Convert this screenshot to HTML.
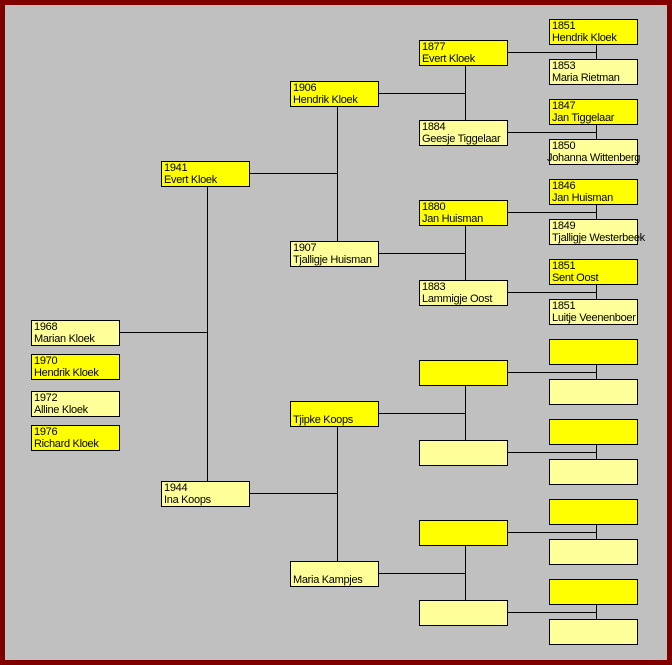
<!DOCTYPE html>
<html><head><meta charset="utf-8"><style>
*{margin:0;padding:0}
body{width:672px;height:665px;overflow:hidden;background:#800000;position:relative;font-family:"Liberation Sans",Arial,sans-serif}
#bg{position:absolute;left:5px;top:5px;width:662px;height:655px;background:#c0c0c0}
.b{position:absolute;box-sizing:border-box;width:89px;height:26px;border:1px solid #000;font-size:11px;line-height:12px;letter-spacing:-0.3px;padding:0 0 0 2px;white-space:nowrap;color:#000}
.y{background:#ffff00}.l{background:#ffff99}
.h{position:absolute;height:1px;background:#000}
.v{position:absolute;width:1px;background:#000}
</style></head><body><div id="bg"></div>
<div class="v" style="left:207px;top:187px;height:294px"></div>
<div class="h" style="left:119px;top:332px;width:88px"></div>
<div class="h" style="left:249px;top:173px;width:88px"></div>
<div class="h" style="left:249px;top:493px;width:88px"></div>
<div class="v" style="left:337px;top:107px;height:134px"></div>
<div class="v" style="left:337px;top:427px;height:134px"></div>
<div class="h" style="left:379px;top:93px;width:86px"></div>
<div class="h" style="left:379px;top:253px;width:86px"></div>
<div class="h" style="left:379px;top:413px;width:86px"></div>
<div class="h" style="left:379px;top:573px;width:86px"></div>
<div class="v" style="left:465px;top:66px;height:54px"></div>
<div class="v" style="left:465px;top:226px;height:54px"></div>
<div class="v" style="left:465px;top:386px;height:54px"></div>
<div class="v" style="left:465px;top:546px;height:54px"></div>
<div class="h" style="left:507px;top:52px;width:89px"></div>
<div class="h" style="left:507px;top:132px;width:89px"></div>
<div class="h" style="left:507px;top:212px;width:89px"></div>
<div class="h" style="left:507px;top:292px;width:89px"></div>
<div class="h" style="left:507px;top:372px;width:89px"></div>
<div class="h" style="left:507px;top:452px;width:89px"></div>
<div class="h" style="left:507px;top:532px;width:89px"></div>
<div class="h" style="left:507px;top:612px;width:89px"></div>
<div class="v" style="left:596px;top:44px;height:15px"></div>
<div class="v" style="left:596px;top:124px;height:15px"></div>
<div class="v" style="left:596px;top:204px;height:15px"></div>
<div class="v" style="left:596px;top:284px;height:15px"></div>
<div class="v" style="left:596px;top:364px;height:15px"></div>
<div class="v" style="left:596px;top:444px;height:15px"></div>
<div class="v" style="left:596px;top:524px;height:15px"></div>
<div class="v" style="left:596px;top:604px;height:15px"></div>
<div class="b l" style="left:31px;top:320px">1968<br>Marian Kloek</div>
<div class="b y" style="left:31px;top:354px">1970<br>Hendrik Kloek</div>
<div class="b l" style="left:31px;top:391px">1972<br>Alline Kloek</div>
<div class="b y" style="left:31px;top:425px">1976<br>Richard Kloek</div>
<div class="b y" style="left:161px;top:161px">1941<br>Evert Kloek</div>
<div class="b l" style="left:161px;top:481px">1944<br>Ina Koops</div>
<div class="b y" style="left:290px;top:81px">1906<br>Hendrik Kloek</div>
<div class="b l" style="left:290px;top:241px">1907<br>Tjalligje Huisman</div>
<div class="b y" style="left:290px;top:401px;padding-top:12px">Tjipke Koops</div>
<div class="b l" style="left:290px;top:561px;padding-top:12px">Maria Kampjes</div>
<div class="b y" style="left:419px;top:40px">1877<br>Evert Kloek</div>
<div class="b l" style="left:419px;top:120px">1884<br>Geesje Tiggelaar</div>
<div class="b y" style="left:419px;top:200px">1880<br>Jan Huisman</div>
<div class="b l" style="left:419px;top:280px">1883<br>Lammigje Oost</div>
<div class="b y" style="left:419px;top:360px"></div>
<div class="b l" style="left:419px;top:440px"></div>
<div class="b y" style="left:419px;top:520px"></div>
<div class="b l" style="left:419px;top:600px"></div>
<div class="b y" style="left:549px;top:19px">1851<br>Hendrik Kloek</div>
<div class="b l" style="left:549px;top:59px">1853<br>Maria Rietman</div>
<div class="b y" style="left:549px;top:99px">1847<br>Jan Tiggelaar</div>
<div class="b l" style="left:549px;top:139px">1850<br><span style="margin-left:-5px">Johanna Wittenberg</span></div>
<div class="b y" style="left:549px;top:179px">1846<br>Jan Huisman</div>
<div class="b l" style="left:549px;top:219px">1849<br>Tjalligje Westerbeek</div>
<div class="b y" style="left:549px;top:259px">1851<br>Sent Oost</div>
<div class="b l" style="left:549px;top:299px">1851<br>Luitje Veenenboer</div>
<div class="b y" style="left:549px;top:339px"></div>
<div class="b l" style="left:549px;top:379px"></div>
<div class="b y" style="left:549px;top:419px"></div>
<div class="b l" style="left:549px;top:459px"></div>
<div class="b y" style="left:549px;top:499px"></div>
<div class="b l" style="left:549px;top:539px"></div>
<div class="b y" style="left:549px;top:579px"></div>
<div class="b l" style="left:549px;top:619px"></div>
</body></html>
